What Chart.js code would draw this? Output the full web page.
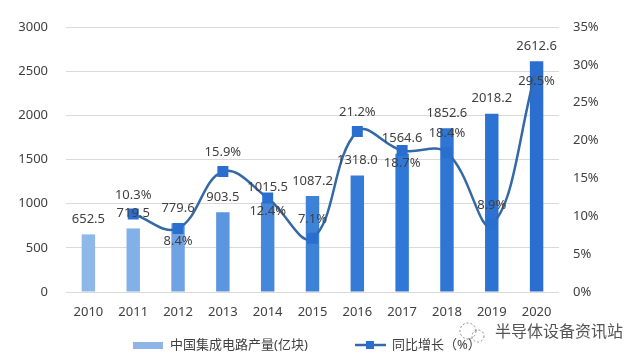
<!DOCTYPE html>
<html>
<head>
<meta charset="utf-8">
<script src="https://cdn.jsdelivr.net/npm/chart.js@4/dist/chart.umd.min.js"></script>
<style>
html,body{margin:0;padding:0;background:#fff;}
#wrap{position:relative;width:640px;height:361px;}
</style>
</head>
<body>
<div id="wrap"><canvas id="c"></canvas></div>
<script>
/* data */
const years=['2010','2011','2012','2013','2014','2015','2016','2017','2018','2019','2020'];
const output=[652.5,719.5,779.6,903.5,1015.5,1087.2,1318.0,1564.6,1852.6,2018.2,2612.6];
const growth=[null,10.3,8.4,15.9,12.4,7.1,21.2,18.7,18.4,8.9,29.5];
const leftTicks=[0,500,1000,1500,2000,2500,3000];
const rightTicks=[0,5,10,15,20,25,30,35];

/* label placement for growth values: above / below marker */
const growthLabelPos=['','up','down','up','down','up','up','down','up','up','down'];
const barColors=['#8fb8ea','#82b0e8','#6fa3e4','#5c96df','#4587da','#3e82d8','#347bd6','#3078d5','#2e75d4','#2c72d2','#2a6fd0'];
const LINE='#3469a6', MARK='#2a6fd0', TXT='#404040', GRID='#d9d9d9';
const FONT="'Noto Sans','Noto Sans CJK SC',sans-serif";

const labelPlugin={
  id:'labels',
  afterDatasetsDraw(chart){
    const ctx=chart.ctx;
    ctx.save();
    ctx.font='13px '+FONT;
    ctx.fillStyle=TXT;
    ctx.textAlign='center';ctx.textBaseline='middle';
    const bars=chart.getDatasetMeta(0).data;
    bars.forEach((b,i)=>{ctx.fillText(output[i].toFixed(1),b.x,b.y-15);});
    const pts=chart.getDatasetMeta(1).data;
    pts.forEach((p,i)=>{
      if(growth[i]==null)return;
      const dy=growthLabelPos[i]==='up'?-19:13;
      ctx.fillText(growth[i].toFixed(1)+'%',p.x,p.y+dy);
    });
    ctx.restore();
  },
  afterDraw(chart){
    const ctx=chart.ctx;
    ctx.save();
    ctx.font='13px '+FONT;
    ctx.textBaseline='middle';ctx.textAlign='left';
    // bar legend
    ctx.fillStyle='#8fb5e6';
    ctx.fillRect(133,342,30,7);
    ctx.fillStyle=TXT;
    ctx.fillText(chart.data.datasets[0].label,170,345);
    // line legend
    ctx.strokeStyle=LINE;ctx.lineWidth=2.5;
    ctx.beginPath();ctx.moveTo(355,345);ctx.lineTo(386,345);ctx.stroke();
    ctx.fillStyle=MARK;ctx.fillRect(366,341,8,8);
    ctx.fillStyle=TXT;
    ctx.fillText(chart.data.datasets[1].label,392,345);
    // source mark
    ctx.font='16px '+FONT;
    ctx.fillStyle='#555';
    ctx.fillText('半导体设备资讯站',495,332);
    ctx.strokeStyle='#888';ctx.lineWidth=1;
    ctx.setLineDash([2,2]);
    ctx.beginPath();ctx.arc(468,331,8,0,Math.PI*2);ctx.stroke();
    ctx.beginPath();ctx.arc(478,336,6,0,Math.PI*2);ctx.stroke();
    ctx.restore();
  }
};

new Chart(document.getElementById('c'),{
  data:{
    labels:years,
    datasets:[
      {type:'bar',label:'中国集成电路产量(亿块)',data:output,backgroundColor:barColors,
       yAxisID:'y',barPercentage:0.3,categoryPercentage:1,order:1},
      {type:'line',label:'同比增长（%）',data:growth,yAxisID:'y1',borderColor:LINE,borderWidth:2.5,
       tension:0.4,pointStyle:'rect',pointRadius:6,pointBackgroundColor:MARK,pointBorderColor:MARK,
       spanGaps:true,order:0}
    ]
  },
  options:{
    responsive:true,maintainAspectRatio:false,animation:false,
    layout:{padding:{top:27,left:0,right:0,bottom:0}},
    plugins:{legend:{display:false},tooltip:{enabled:false}},
    scales:{
      x:{grid:{display:false},border:{display:false},
         ticks:{color:TXT,font:{size:13,family:FONT},padding:4,maxRotation:0},
         afterFit(s){s.height=69;}},
      y:{position:'left',min:0,max:3000,
         grid:{color:GRID,drawTicks:false},border:{display:false},
         afterBuildTicks(s){s.ticks=leftTicks.map(v=>({value:v}));},
         ticks:{color:TXT,font:{size:13,family:FONT},padding:18,callback:v=>String(v)},
         afterFit(s){s.width=66;}},
      y1:{position:'right',min:0,max:35,
         grid:{display:false,drawTicks:false},border:{display:false},
         afterBuildTicks(s){s.ticks=rightTicks.map(v=>({value:v}));},
         ticks:{color:TXT,font:{size:13,family:FONT},padding:14,callback:v=>v+'%'},
         afterFit(s){s.width=81;}}
    }
  },
  plugins:[labelPlugin]
});
</script>
</body>
</html>
